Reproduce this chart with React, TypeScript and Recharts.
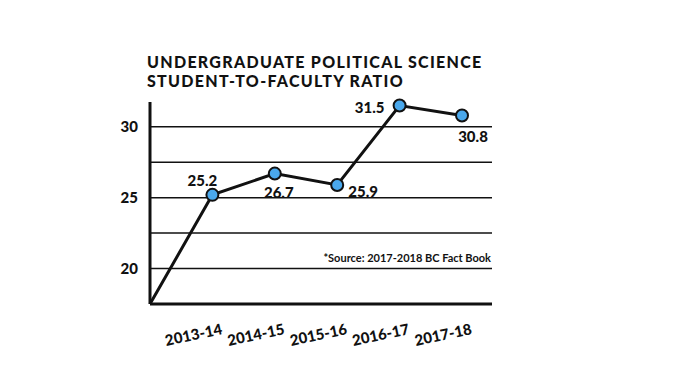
import React from 'react';
import { LineChart, Line, XAxis, YAxis, ReferenceLine, LabelList } from 'recharts';

// --- DATA ---
// first category is the blank start point at the axis origin
const YEARS = ['', '2013-14', '2014-15', '2015-16', '2016-17', '2017-18'];
const RATIO = [17.5, 25.2, 26.7, 25.9, 31.5, 30.8];
const Y_TICKS = [20, 25, 30];
const GRID_LINES = [20, 22.5, 25, 27.5, 30];
const TITLE = ['UNDERGRADUATE POLITICAL SCIENCE', 'STUDENT-TO-FACULTY RATIO'];

const data = YEARS.map((year, i) => ({ year, ratio: RATIO[i] }));

// --- STYLES ---
const FONT = 'Lato, "DejaVu Sans", sans-serif';
const DOT_BLUE = '#4aa8ec';
const INK = '#111111';

// where each value label sits relative to its dot (dx, dy of the text centre)
const LABEL_OFFSETS = [
  [0, 0],
  [-10, -15],
  [4, 18],
  [26, 6],
  [-30, 1],
  [11, 21],
];

const XTick = ({ x, y, payload }: any) => {
  if (!payload.value) return null;
  return (
    <g transform={`translate(${x - 19},${y + 22}) rotate(-12)`}>
      <text textAnchor="middle" dominantBaseline="central" fontFamily={FONT} fontWeight={900} fontSize={15} fill={INK}>
        {payload.value}
      </text>
    </g>
  );
};

const Dot = ({ cx, cy, index }: any) => {
  if (index === 0) return null;
  return <circle key={index} cx={cx} cy={cy} r={6} fill={DOT_BLUE} stroke={INK} strokeWidth={2} />;
};

const ValueLabel = ({ x, y, value, index }: any) => {
  if (index === 0) return null;
  const [dx, dy] = LABEL_OFFSETS[index];
  return (
    <text x={x + dx} y={y + dy} textAnchor="middle" dominantBaseline="central" fontFamily={FONT} fontWeight={900} fontSize={15} fill={INK}>
      {value.toFixed(1)}
    </text>
  );
};

export default function App() {
  return (
    <div style={{ position: 'absolute', left: 0, top: 0, width: 678, height: 381, background: '#fff' }}>
      {TITLE.map((line, i) => (
        <div
          key={line}
          style={{
            position: 'absolute',
            left: 147,
            top: 54 + i * 19,
            fontFamily: FONT,
            fontWeight: 900,
            fontSize: 16,
            lineHeight: '16px',
            letterSpacing: 1.3,
            color: INK,
            whiteSpace: 'nowrap',
          }}
        >
          {line}
        </div>
      ))}
      <LineChart width={678} height={381} data={data} margin={{ top: 102, right: 186, bottom: 47, left: 110 }}>
        {GRID_LINES.map((v) => (
          <ReferenceLine key={v} y={v} stroke={INK} strokeWidth={1.5} />
        ))}
        <XAxis
          dataKey="year"
          padding={{ left: 0, right: 30 }}
          axisLine={{ stroke: INK, strokeWidth: 3 }}
          tickLine={false}
          tick={<XTick />}
          interval={0}
        />
        <YAxis
          domain={[17.5, 31.75]}
          ticks={Y_TICKS}
          width={40}
          axisLine={{ stroke: INK, strokeWidth: 3 }}
          tickLine={false}
          tickSize={0}
          tickMargin={12}
          tick={{ fontFamily: FONT, fontWeight: 900, fontSize: 15, fill: INK }}
        />
        <Line
          type="linear"
          dataKey="ratio"
          stroke={INK}
          strokeWidth={3}
          dot={<Dot />}
          activeDot={false}
          isAnimationActive={false}
        >
          <LabelList dataKey="ratio" content={<ValueLabel />} />
        </Line>
      </LineChart>
      <div
        style={{
          position: 'absolute',
          right: 678 - 491,
          top: 251,
          fontFamily: FONT,
          fontWeight: 700,
          fontSize: 11,
          color: INK,
          whiteSpace: 'nowrap',
        }}
      >
        *Source: 2017-2018 BC Fact Book
      </div>
    </div>
  );
}
